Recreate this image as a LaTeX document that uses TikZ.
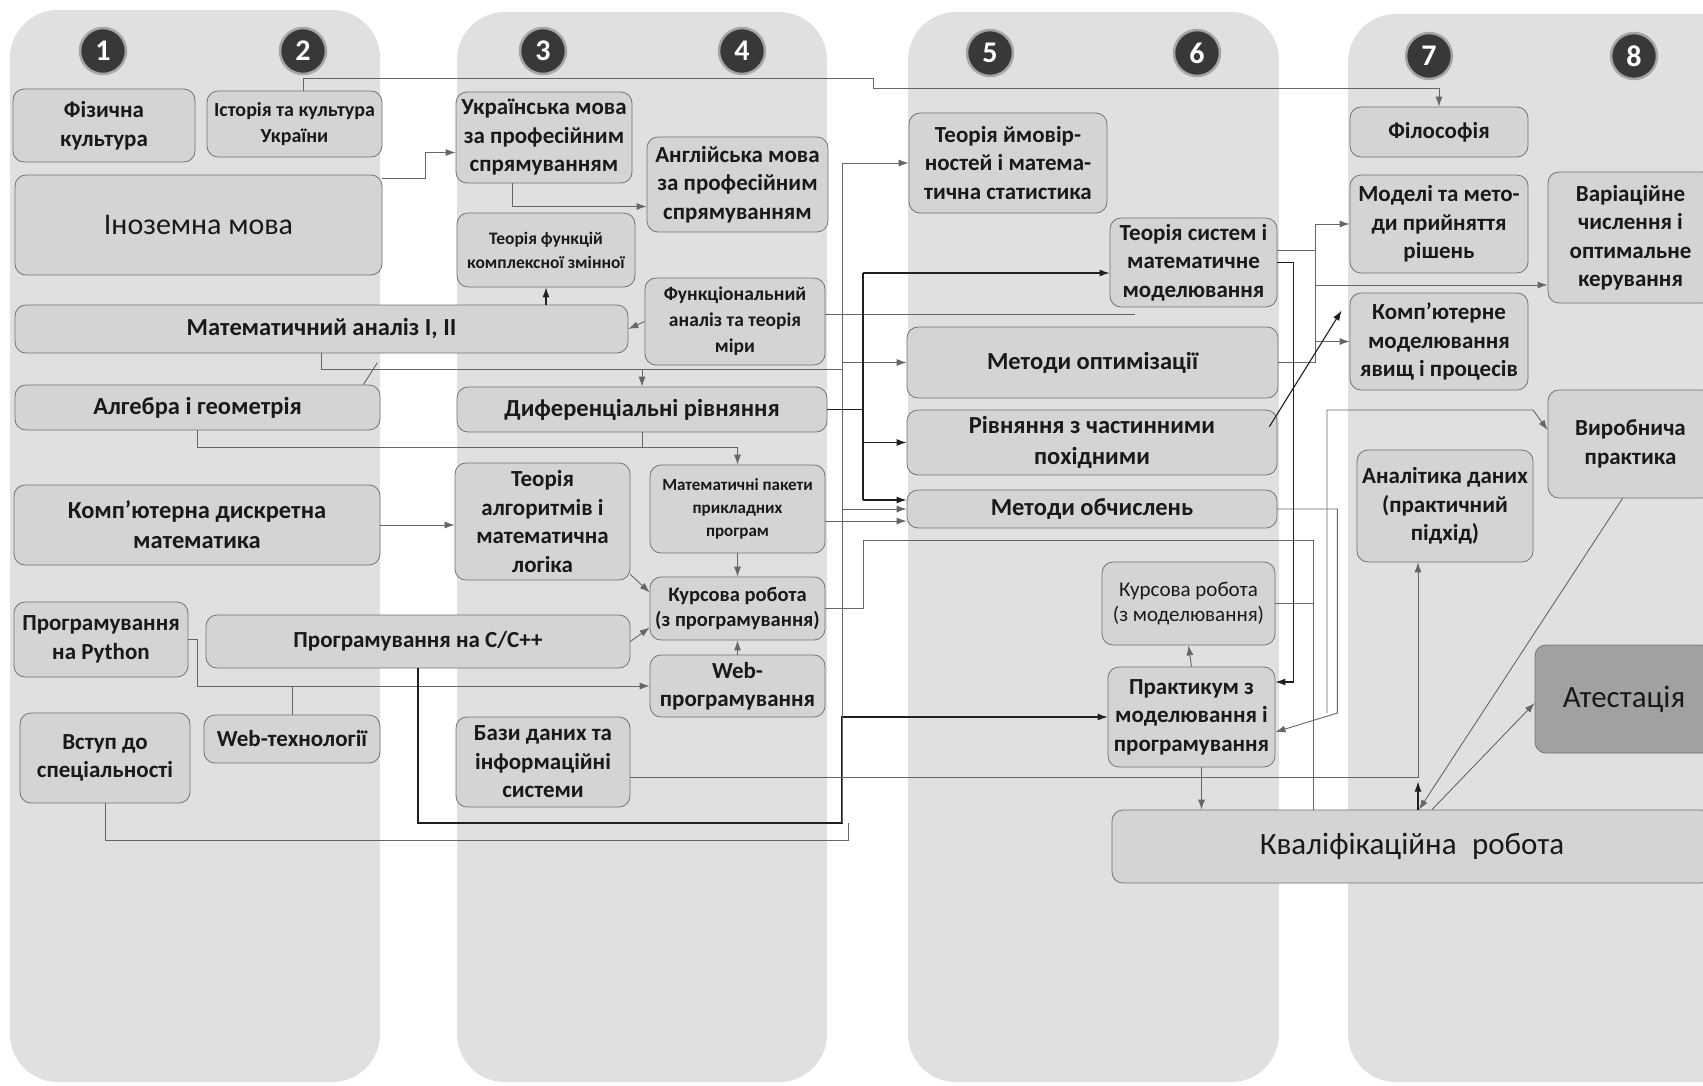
\documentclass[tikz,border=0pt]{standalone}
\usepackage{fontspec}
\setmainfont{Carlito}
\usetikzlibrary{arrows.meta}

\begin{document}
\begin{tikzpicture}[x=1pt,y=-1pt,
		panel/.style={fill=black!12,rounded corners=48pt},
		badge/.style={circle,fill=black!78,draw=black!35,line width=2.5pt,minimum size=46pt,inner sep=0pt,text=white,font=\bfseries\fontsize{30}{30}\selectfont},
		box/.style={draw=black!55,fill=black!17,line width=0.8pt,rounded corners=11pt,align=center,inner sep=1pt,text=black!90,font=\bfseries\fontsize{23}{28.5}\selectfont},
		big/.style={font=\bfseries\fontsize{24.5}{30}\selectfont},
		sz/.style 2 args={minimum width=#1pt,minimum height=#2pt},
		lnk/.style={draw=black!60,line width=0.9pt},
		lnkd/.style={draw=black!88,line width=1.1pt},
		>={Latex[length=10pt,width=7pt]}]
		\useasboundingbox (0,0) rectangle (1703,1085);
		\fill[white] (0,0) rectangle (1703,1085);
		% semesters
		\fill[panel] (10,10) rectangle (380,1082);
		\fill[panel] (457,12) rectangle (827,1082);
		\fill[panel] (908,12) rectangle (1279,1082);
		\fill[panel] (1348,14) rectangle (1760,1082);
		\node[badge] (s1) at (103,51) {1};
		\node[badge] (s2) at (303,51) {2};
		\node[badge] (s3) at (543,51) {3};
		\node[badge] (s4) at (742,51) {4};
		\node[badge] (s5) at (990,53) {5};
		\node[badge] (s6) at (1197,53) {6};
		\node[badge] (s7) at (1429,56) {7};
		\node[badge] (s8) at (1634,56) {8};
		% 1-2
		\node[box,sz={182}{73}] (fiz) at (104,125.5) {Фізична\\культура};
		\node[box,sz={175}{66},font=\bfseries\fontsize{20}{26}\selectfont] (ist) at (294.5,124) {Історія та культура\\України};
		\node[box,sz={367}{100},font=\fontsize{30}{32}\selectfont] (ino) at (198.5,225) {Іноземна мова};
		\node[box,big,sz={613}{48}] (matan) at (321.5,329) {Математичний аналіз I, II};
		\node[box,big,sz={365}{45}] (alg) at (197.5,407.5) {Алгебра і геометрія};
		\node[box,big,sz={366}{80}] (kdm) at (197,525) {Комп'ютерна дискретна\\математика};
		\node[box,sz={174}{75}] (py) at (101,639.5) {Програмування\\на Python};
		\node[box,sz={424}{53}] (cpp) at (418,641.5) {Програмування на C/C++};
		\node[box,sz={176}{48}] (webt) at (292,739) {Web-технології};
		\node[box,sz={170}{90}] (vstup) at (105,758) {Вступ до\\спеціальності};
		% 3-4
		\node[box,sz={176}{91}] (ukr) at (544,137.5) {Українська мова\\за професійним\\спрямуванням};
		\node[box,sz={181}{95}] (angl) at (737.5,184.5) {Англійська мова\\за професійним\\спрямуванням};
		\node[box,sz={178}{74},font=\bfseries\fontsize{17.5}{24}\selectfont] (tfkz) at (546,250) {Теорія функцій\\комплексної змінної};
		\node[box,sz={180}{87},font=\bfseries\fontsize{19.5}{26}\selectfont] (funk) at (735,321.5) {Функціональний\\аналіз та теорія\\міри};
		\node[box,big,sz={370}{45}] (dif) at (642,409.5) {Диференціальні рівняння};
		\node[box,sz={175}{117}] (talg) at (542.5,521.5) {Теорія\\алгоритмів і\\математична\\логіка};
		\node[box,sz={175}{88},font=\bfseries\fontsize{17}{23}\selectfont] (mpak) at (737.5,509) {Математичні пакети\\прикладних\\програм};
		\node[box,sz={175}{63},font=\bfseries\fontsize{20.5}{25.5}\selectfont] (kurp) at (737.5,608.5) {Курсова робота\\(з програмування)};
		\node[box,sz={175}{62}] (webp) at (737.5,686) {Web-\\програмування};
		\node[box,sz={174}{90}] (bazy) at (543,762) {Бази даних та\\інформаційні\\системи};
		% 5-6
		\node[box,sz={198}{100}] (tymo) at (1008,163) {Теорія ймовір-\\ностей і матема-\\тична статистика};
		\node[box,sz={167}{89}] (tsys) at (1193.5,262.5) {Теорія систем і\\математичне\\моделювання};
		\node[box,big,sz={371}{71}] (mopt) at (1092.5,362.5) {Методи оптимізації};
		\node[box,sz={370}{65},font=\bfseries\fontsize{24.5}{31}\selectfont] (rchp) at (1092,442.5) {Рівняння з частинними\\похідними};
		\node[box,big,sz={370}{38}] (mobch) at (1092,509) {Методи обчислень};
		\node[box,sz={173}{83},font=\fontsize{21}{25}\selectfont] (kurm) at (1188.5,603.5) {Курсова робота\\(з моделювання)};
		\node[box,sz={167}{100}] (prak) at (1191.5,717) {Практикум з\\моделювання і\\програмування};
		% 7-8
		\node[box,sz={178}{50}] (fil) at (1439,132) {Філософія};
		\node[box,sz={178}{98}] (mod) at (1439,224) {Моделі та мето-\\ди прийняття\\рішень};
		\node[box,sz={165}{131}] (var) at (1630.5,237.5) {Варіаційне\\числення і\\оптимальне\\керування};
		\node[box,sz={178}{97}] (komp) at (1439,341.5) {Комп’ютерне\\моделювання\\явищ і процесів};
		\node[box,sz={165}{108}] (vyr) at (1630.5,444) {Виробнича\\практика};
		\node[box,sz={176}{112}] (anal) at (1445,506) {Аналітика даних\\(практичний\\підхід)};
		\node[box,sz={178}{108},fill=black!37,font=\fontsize{31}{33}\selectfont] (atest) at (1624,699) {Атестація};
		\node[box,sz={600}{73},font=\fontsize{31}{33}\selectfont] (kval) at (1412,846.5) {Кваліфікаційна\enspace робота};
		% bus points
		\coordinate (bA) at (842,163);
		\coordinate (bAend) at (842,823);
		\coordinate (jM) at (842,369);
		\coordinate (bB) at (863,273);
		\coordinate (bBend) at (863,500);
		\coordinate (bC) at (1315,0);
		\coordinate (jV) at (1315,285);
		\coordinate (jK) at (1313,540);
		\coordinate (jP) at (1327,713);
		% links, left part
		\draw[lnk,->] ([xshift=9pt]ist.north) |- (873,78) -- (873,88) -| (fil.north);
		\draw[lnk,->] ([yshift=47pt]ino.east) -- ++(43,0) |- ([yshift=-15pt]ukr.west);
		\draw[lnk,->] ([xshift=-32pt]ukr.south) |- ([yshift=-22pt]angl.west);
		\draw[lnkd,->] (tfkz.south |- matan.north) -- (tfkz.south);
		\draw[lnk,->] (funk.west) -- (matan.east);
		\draw[lnk] (matan.south) |- (jM);
		\draw[lnk,->] (dif.north |- jM) -- (dif.north);
		\draw[lnk] ([xshift=-17pt]alg.north east) -- ++(14,-22);
		\draw[lnk,->] (alg.south) -- ++(0,17) -| (mpak.north);
		\draw[lnk] (dif.south) -- ++(0,15);
		\draw[lnk,->] (kdm.east) -- (kdm.east -| talg.west);
		\draw[lnk,->] (mpak.south) -- (kurp.north);
		\draw[lnk,->] ([yshift=6pt]talg.south east) -- ([yshift=16pt]kurp.west);
		\draw[lnk,->] (cpp.east) -- ([yshift=-19pt]kurp.west);
		\draw[lnk,->] (webp.north) -- (kurp.south);
		\draw[lnk,->] (py.east) -- ++(9,0) |- (webp.west);
		\draw[lnk] (webt.north) -- (webt.north |- webp.west);
		\draw[lnkd,->] (cpp.south) |- (bAend) |- (prak.west);
		\draw[lnk] (vstup.south) |- (848,840) -- (848,823);
		% bus A
		\draw[lnk] (bA) -- (bAend);
		\draw[lnk,->] (bA) -- (bA -| tymo.west);
		\draw[lnk,->] (bA |- mopt.west) -- (mopt.west);
		\draw[lnk] ([yshift=7pt]funk.east) -- ++(310,0);
		\draw[lnk,->] ([yshift=-12pt]mpak.east) -- ([yshift=-12pt]mobch.west);
		\draw[lnk,->] (bA |- mobch.west) -- (mobch.west);
		% bus B
		\draw[lnkd] (bB) -- (bBend);
		\draw[lnkd,->] (bB) -- (bB -| tsys.west);
		\draw[lnkd] (dif.east) -- (dif.east -| bB);
		\draw[lnkd,->] (bB |- rchp.west) -- (rchp.west);
		\draw[lnkd,->] (bBend) -- (bBend -| mobch.west);
		% to the final work
		\draw[lnk] (kurp.east) -| (bB |- jK) -- (jK) -- (jK |- kval.north);
		\draw[lnk] (kurm.east) -- (kurm.east -| jK);
		\draw[lnk,->] (prak.north) -- (kurm.south);
		\draw[lnk,->] ([xshift=10pt]prak.south) -- ([xshift=10pt]prak.south |- kval.north);
		% bus C
		\draw[lnk] ([yshift=12pt]tsys.east) -- ([yshift=12pt]tsys.east -| bC);
		\draw[lnk,->] (mopt.east) -| (bC |- mod.west) -- (mod.west);
		\draw[lnk,->] (jV) -- (jV -| var.west);
		\draw[lnk,->] (bC |- komp.west) -- (komp.west);
		\draw[lnkd,->] ([xshift=-8pt,yshift=-17pt]rchp.north east) -- ([xshift=-8pt,yshift=31pt]komp.west);
		\draw[lnkd,->] (tsys.east) -- ++(16,0) |- ([yshift=35pt]prak.east);
		\draw[lnk,->] (mobch.east) -- ++(60,0) -- ++(0,204) -- ([yshift=-15pt]prak.east);
		\draw[lnk,->] (jP) |- (1533,410) -- ([yshift=14pt]vyr.west);
		% bottom
		\draw[lnk,->] ([yshift=-15pt]bazy.east) -| ([xshift=-27pt]anal.south);
		\draw[lnkd,->] ([xshift=-27pt]anal.south |- kval.north) -- ++(0,-28);
		\draw[lnk,->] ([xshift=-8pt]vyr.south) -- ([xshift=7pt]kval.north);
		\draw[lnk,->] ([xshift=20pt]kval.north) -- ([yshift=-4pt]atest.west);
		%\draw[lnk] (1430,810) -- (1430,900);
		\end{tikzpicture}
\end{document}
